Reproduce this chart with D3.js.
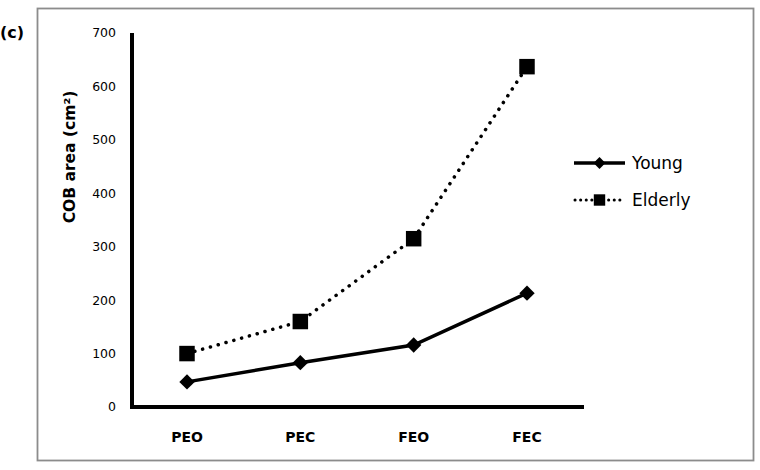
<!DOCTYPE html>
<html>
<head>
  <script src="https://d3js.org/d3.v7.min.js"></script>
  <style>
    body { margin: 0; background: #fff; }
    text { font-family: "DejaVu Sans", Verdana, sans-serif; fill: #000; }
  </style>
</head>
<body>
  <svg id="chart" width="760" height="470"></svg>
  <script>
    // data
    const conditions = ["PEO", "PEC", "FEO", "FEC"];
    const young = [47, 83, 116, 213];
    const elderly = [100, 160, 315, 637];
    const yTicks = [0, 100, 200, 300, 400, 500, 600, 700];

    const svg = d3.select("#chart");

    // outer frame
    svg.append("rect")
      .attr("x", 37.5).attr("y", 8.5)
      .attr("width", 716).attr("height", 452)
      .attr("fill", "none").attr("stroke", "#8c8c8c").attr("stroke-width", 1.8);

    svg.append("text").attr("x", 0).attr("y", 38)
      .attr("font-size", 16).attr("font-weight", "bold").text("(c)");

    const x = d3.scalePoint().domain(conditions).range([187, 527]);
    const y = d3.scaleLinear().domain([0, 700]).range([407, 33]);

    // y axis
    svg.append("line").attr("x1", 132).attr("x2", 132)
      .attr("y1", y(700)).attr("y2", y(0) + 2)
      .attr("stroke", "#000").attr("stroke-width", 4);
    // x axis
    svg.append("line").attr("x1", 130).attr("x2", 584)
      .attr("y1", y(0)).attr("y2", y(0))
      .attr("stroke", "#000").attr("stroke-width", 4);

    svg.append("g").selectAll("text").data(yTicks).join("text")
      .attr("x", 116).attr("y", d => y(d)).attr("dy", "0.35em")
      .attr("text-anchor", "end").attr("font-size", 12.5)
      .text(d => d);

    svg.append("g").selectAll("text").data(conditions).join("text")
      .attr("x", d => x(d)).attr("y", 442)
      .attr("text-anchor", "middle").attr("font-size", 14).attr("font-weight", "bold")
      .text(d => d);

    svg.append("text")
      .attr("transform", "translate(75,157) rotate(-90)")
      .attr("text-anchor", "middle").attr("font-size", 15.5).attr("font-weight", "bold")
      .text("COB area (cm²)");

    const line = d3.line().x((d, i) => x(conditions[i])).y(d => y(d));

    svg.append("path").datum(elderly).attr("d", line)
      .attr("fill", "none").attr("stroke", "#000").attr("stroke-width", 3.5)
      .attr("stroke-linecap", "round").attr("stroke-dasharray", "0.1,8");
    svg.append("path").datum(young).attr("d", line)
      .attr("fill", "none").attr("stroke", "#000").attr("stroke-width", 3.5);

    const diamond = d3.symbol().type(d3.symbolDiamond2).size(150);
    const square = d3.symbol().type(d3.symbolSquare).size(240);

    svg.append("g").selectAll("path").data(young).join("path")
      .attr("transform", (d, i) => `translate(${x(conditions[i])},${y(d)})`)
      .attr("d", diamond).attr("fill", "#000");
    svg.append("g").selectAll("path").data(elderly).join("path")
      .attr("transform", (d, i) => `translate(${x(conditions[i])},${y(d)})`)
      .attr("d", square).attr("fill", "#000");

    // legend
    const legend = svg.append("g").attr("transform", "translate(574,0)");
    legend.append("line").attr("x1", 0).attr("x2", 51).attr("y1", 163).attr("y2", 163)
      .attr("stroke", "#000").attr("stroke-width", 3.5);
    legend.append("path").attr("transform", "translate(25.5,163)")
      .attr("d", d3.symbol().type(d3.symbolDiamond2).size(90)).attr("fill", "#000");
    legend.append("text").attr("x", 58).attr("y", 163).attr("dy", "0.35em")
      .attr("font-size", 17).text("Young");
    legend.append("line").attr("x1", 1).attr("x2", 51).attr("y1", 200).attr("y2", 200)
      .attr("stroke", "#000").attr("stroke-width", 3).attr("stroke-linecap", "round")
      .attr("stroke-dasharray", "0.1,5.5");
    legend.append("path").attr("transform", "translate(25.5,200)")
      .attr("d", d3.symbol().type(d3.symbolSquare).size(130)).attr("fill", "#000");
    legend.append("text").attr("x", 58).attr("y", 200).attr("dy", "0.35em")
      .attr("font-size", 17).text("Elderly");
  </script>
</body>
</html>
